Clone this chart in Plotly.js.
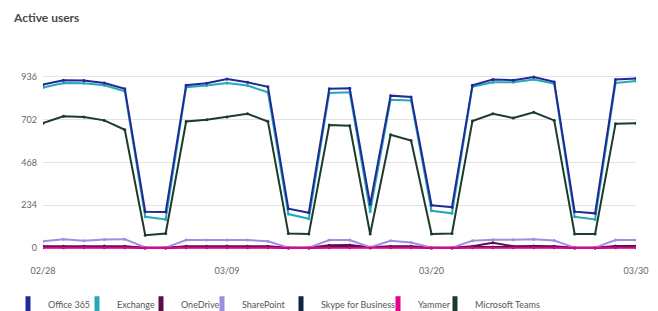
<!DOCTYPE html>
<html><head><meta charset="utf-8">
<script src="https://cdn.plot.ly/plotly-3.0.1.min.js"></script>
<style>html,body{margin:0;padding:0;background:#fff;}#chart{width:658px;height:311px;}</style>
</head><body><div id="chart"></div>
<script>
// ---- data ----
const tickVals   = [0, 9, 19, 29];
const tickLabels = ['02/28', '03/09', '03/20', '03/30'];
const yTicks     = [0, 234, 468, 702, 936];

const seriesNames  = ['Office 365', 'Exchange', 'OneDrive', 'SharePoint', 'Skype for Business', 'Yammer', 'Microsoft Teams'];
const seriesColors = ['#1f2a96', '#27a8b8', '#5a0f4c', '#a08de2', '#0f2444', '#e3008c', '#1d3b2c'];

const office365  = [892, 916, 914, 901, 870, 199, 197, 889, 900, 923, 905, 880, 215, 193, 869, 872, 240, 832, 825, 234, 223, 889, 920, 916, 934, 907, 199, 190, 920, 925];
const exchange   = [876, 901, 900, 889, 856, 171, 157, 878, 887, 901, 887, 850, 186, 160, 847, 850, 200, 810, 806, 204, 190, 880, 905, 905, 920, 898, 171, 157, 901, 912];
const oneDrive   = [10, 10, 10, 12, 10, 2, 2, 10, 10, 12, 10, 10, 2, 2, 16, 17, 5, 10, 10, 2, 2, 10, 30, 10, 12, 10, 2, 2, 12, 12];
const sharePoint = [38, 49, 40, 47, 49, 4, 3, 44, 44, 44, 44, 38, 3, 3, 44, 44, 5, 40, 31, 3, 3, 40, 46, 46, 48, 42, 3, 3, 44, 44];
const skype      = [6, 6, 6, 6, 6, 1, 1, 6, 6, 6, 6, 6, 1, 1, 6, 6, 2, 6, 6, 1, 1, 6, 6, 6, 6, 6, 1, 1, 6, 6];
const yammer     = [2, 2, 2, 2, 2, 1, 1, 2, 2, 2, 2, 2, 1, 1, 2, 2, 1, 2, 2, 1, 1, 2, 2, 2, 2, 2, 1, 1, 2, 2];
const teams      = [682, 719, 715, 697, 646, 71, 80, 691, 701, 715, 733, 691, 80, 77, 672, 668, 77, 619, 587, 77, 80, 693, 733, 710, 741, 697, 77, 77, 679, 682];

const seriesValues = [office365, exchange, oneDrive, sharePoint, skype, yammer, teams];
// ---- end data ----

const FONT = "Lato, 'Liberation Sans', sans-serif";
const dayIndex = office365.map((_, i) => i);

// legend swatch centres (px, container) for each entry
const legendPx = [28, 97, 161, 222, 301, 398, 455];

const drawOrder = [6, 4, 2, 3, 5, 1, 0];
const traces = [];
drawOrder.forEach(k => {
  traces.push({
    type: 'scatter', mode: 'lines+markers',
    x: dayIndex, y: seriesValues[k], name: seriesNames[k],
    line: {color: seriesColors[k], width: 2},
    marker: {color: seriesColors[k], size: 3},
    showlegend: false, hoverinfo: 'x+y+name'
  });
});
seriesNames.forEach((n, k) => {
  traces.push({
    type: 'scatter', mode: 'markers', x: [null], y: [null], name: n,
    marker: {symbol: 'line-ns', size: 11, line: {width: 6, color: seriesColors[k]}},
    legend: k === 0 ? 'legend' : 'legend' + (k + 1),
    showlegend: true, hoverinfo: 'skip'
  });
});

const layout = {
  width: 658, height: 311,
  margin: {l: 43, r: 22, t: 74, b: 61},
  paper_bgcolor: '#ffffff', plot_bgcolor: '#ffffff',
  font: {family: FONT, size: 9, color: '#555555'},
  title: {text: 'Active users', x: 14 / 658, xref: 'container', xanchor: 'left',
          y: 1 - 18 / 311, yref: 'container', yanchor: 'middle',
          font: {family: FONT, size: 12, color: '#4a4a4a', weight: 700}},
  xaxis: {range: [0, 29], tickmode: 'array', tickvals: tickVals, ticktext: tickLabels,
          showgrid: false, zeroline: false, showline: false, ticks: '',
          tickfont: {size: 9, color: '#666666'}, ticklabelstandoff: 14, fixedrange: true},
  yaxis: {range: [-10, 950], tickmode: 'array', tickvals: yTicks,
          showgrid: true, gridcolor: '#e3e3e3', gridwidth: 1, zeroline: false, showline: false, ticks: '',
          tickfont: {size: 9, color: '#666666'}, ticklabelstandoff: 5, fixedrange: true},
  showlegend: true
};
seriesNames.forEach((n, k) => {
  const key = k === 0 ? 'legend' : 'legend' + (k + 1);
  layout[key] = {
    orientation: 'h', xref: 'container', yref: 'container',
    x: (legendPx[k] - 20) / 658, xanchor: 'left',
    y: 1 - 304 / 311, yanchor: 'middle',
    bgcolor: 'rgba(0,0,0,0)', borderwidth: 0,
    font: {family: FONT, size: 9, color: '#555555'}
  };
});

Plotly.newPlot('chart', traces, layout, {displayModeBar: false, staticPlot: true});
</script>
</body></html>
